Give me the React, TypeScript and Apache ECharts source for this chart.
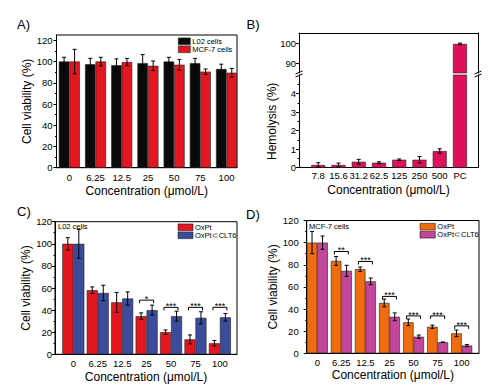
import React, { useEffect, useRef } from 'react';
import * as echarts from 'echarts';

// ---------- Data ----------
const concentrations = ['0', '6.25', '12.5', '25', '50', '75', '100'];

// Panel A
const l02Viability = [100, 97.5, 96.5, 98.5, 100, 98.5, 93];
const l02Err = [4, 5.5, 6, 8, 4, 4.5, 4.5];
const mcf7Viability = [100, 100, 99.5, 96, 97, 90.5, 89.5];
const mcf7Err = [11.5, 4, 3.5, 4.5, 5, 2.5, 4];

// Panel B
const hemoConc = ['7.8', '15.6', '31.2', '62.5', '125', '250', '500', 'PC'];
const hemolysis = [0.15, 0.15, 0.32, 0.27, 0.43, 0.43, 0.9, 99.7];
const hemolysisErr = [0.12, 0.1, 0.13, 0.05, 0.04, 0.17, 0.12, 0.4];

// Panel C (L02 cells)
const cOxPt = [100, 58, 47, 34.5, 20, 13.5, 10];
const cOxPtErr = [5.5, 3, 9, 3, 2, 4, 2.5];
const cComplex = [100, 55.5, 50.5, 40, 34.5, 33, 33.5];
const cComplexErr = [13, 7, 6, 4.5, 4.5, 5.5, 3.5];
const cSigIndex = [3, 4, 5, 6];
const cSigLevel = [49, 42.5, 42.5, 42.5];
const cSigStars = ['*', '***', '***', '***'];

// Panel D (MCF-7 cells)
const dOxPt = [100, 83.5, 76, 45.5, 28, 24, 18];
const dOxPtErr = [10, 4, 2, 3.5, 3, 1.5, 3];
const dComplex = [100, 74.5, 65, 33, 15, 10, 7];
const dComplexErr = [6, 5, 3, 3.5, 1.5, 0.3, 1];
const dSigIndex = [1, 2, 3, 4, 5, 6];
const dSigLevel = [92, 83, 51.4, 33.8, 33.8, 24.8];
const dSigStars = ['**', '***', '***', '***', '***', '***'];

const yTicks120 = [0, 20, 40, 60, 80, 100, 120];
const bUpperTicks = [90, 100];
const bLowerTicks = [0, 1, 2, 3, 4];

// ---------- Styling ----------
const FONT = '"Liberation Sans", Arial, Helvetica, sans-serif';
const BLACK = '#0a0a0a';
const RED = '#e4161f';
const BLUE = '#3b4c9c';
const ORANGE = '#ef6d10';
const MAGENTA = '#c2469c';
const CRIMSON = '#df115a';
const XNAME = 'Concentration (\u03bcmol/L)';
const YNAME = 'Cell viability (%)';

function xAxis(gridIndex: number, min: number, max: number, labels: string[] | null, nameGap = 17, labelMargin = 4, position = 'bottom') {
  return {
    type: 'value', gridIndex, min, max, position,
    axisLine: { show: true, onZero: false, lineStyle: { color: '#000', width: 1 } },
    axisTick: { show: false },
    splitLine: { show: false },
    axisLabel: labels
      ? {
          show: true,
          customValues: labels.map((_, i) => i),
          formatter: (v: number) => labels[Math.round(v)] ?? '',
          fontSize: 9.5, color: '#000', fontFamily: FONT, margin: labelMargin,
        }
      : { show: false },
    name: labels ? XNAME : '',
    nameLocation: 'middle', nameGap,
    nameTextStyle: { fontSize: 12, color: '#000', fontFamily: FONT },
  };
}

function yAxis(gridIndex: number, min: number, max: number, interval: number, ticks: number[], name: string, nameGap: number, labelMargin = 4, minor = true) {
  return {
    type: 'value', gridIndex, min, max, interval,
    axisLine: { show: true, onZero: false, lineStyle: { color: '#000', width: 1 } },
    axisTick: { show: true, length: 3, customValues: ticks, lineStyle: { color: '#000', width: 1 } },
    minorTick: { show: minor, splitNumber: 2, length: 1.5, lineStyle: { color: '#000', width: 1 } },
    splitLine: { show: false },
    minorSplitLine: { show: false },
    axisLabel: { customValues: ticks, fontSize: 9.5, color: '#000', fontFamily: FONT, margin: labelMargin },
    name, nameLocation: 'middle', nameGap,
    nameTextStyle: { fontSize: 12, color: '#000', fontFamily: FONT },
  };
}

function rightLine(gridIndex: number, min: number, max: number) {
  return {
    type: 'value', gridIndex, min, max, position: 'right',
    axisLine: { show: true, onZero: false, lineStyle: { color: '#000', width: 1 } },
    axisTick: { show: false }, axisLabel: { show: false }, splitLine: { show: false },
  };
}

function bar(name: string, xi: number, yi: number, vals: number[], color: string, width: number, filter?: (v: number) => boolean) {
  const data = vals.map((v, i) => [i, v]).filter((d) => (filter ? filter(d[1]) : true));
  return {
    type: 'bar', name, xAxisIndex: xi, yAxisIndex: yi, data,
    barWidth: width, barGap: '0%', clip: true,
    itemStyle: { color, borderColor: '#222', borderWidth: 0.6 },
    z: 2,
  };
}

function errBars(xi: number, yi: number, vals: number[], errs: number[], offset: number, filter?: (v: number, e: number) => boolean) {
  const data = vals
    .map((v, i) => [i, v - errs[i], v + errs[i], v, errs[i]])
    .filter((d) => (filter ? filter(d[3], d[4]) : true))
    .map((d) => [d[0], d[1], d[2]]);
  return {
    type: 'custom', xAxisIndex: xi, yAxisIndex: yi, data, silent: true, z: 5,
    encode: { x: 0, y: [1, 2] },
    renderItem: (params: any, api: any) => {
      const x = api.value(0);
      const lo = api.coord([x, api.value(1)]);
      const hi = api.coord([x, api.value(2)]);
      const cx = lo[0] + offset;
      const cap = 2;
      const st = { stroke: '#000', lineWidth: 1 };
      return {
        type: 'group',
        children: [
          { type: 'line', shape: { x1: cx, y1: lo[1], x2: cx, y2: hi[1] }, style: st },
          { type: 'line', shape: { x1: cx - cap, y1: hi[1], x2: cx + cap, y2: hi[1] }, style: st },
          { type: 'line', shape: { x1: cx - cap, y1: lo[1], x2: cx + cap, y2: lo[1] }, style: st },
        ],
      };
    },
  };
}

function brackets(xi: number, yi: number, idx: number[], levels: number[], stars: string[], half: number) {
  return {
    type: 'custom', xAxisIndex: xi, yAxisIndex: yi, silent: true, z: 6,
    data: idx.map((i, k) => [i, levels[k]]),
    encode: { x: 0, y: 1 },
    renderItem: (params: any, api: any) => {
      const p = api.coord([api.value(0), api.value(1)]);
      const l = p[0] - half;
      const r = p[0] + half;
      const y = p[1];
      return {
        type: 'group',
        children: [
          { type: 'polyline', shape: { points: [[l, y + 3], [l, y], [r, y], [r, y + 3]] }, style: { stroke: '#000', lineWidth: 1, fill: 'none' } },
          { type: 'text', x: p[0], y: y - 1, style: { text: stars[params.dataIndex], fontSize: 9, fontFamily: FONT, fill: '#000', align: 'center', verticalAlign: 'middle' } },
        ],
      };
    },
  };
}

function breakMark(x: number, y: number) {
  return {
    type: 'group', x, y, z: 100,
    children: [
      { type: 'rect', shape: { x: -4, y: -1.5, width: 8, height: 3 }, style: { fill: '#fff' } },
      { type: 'line', shape: { x1: -3.5, y1: 0, x2: 3.5, y2: -3 }, style: { stroke: '#000', lineWidth: 1 } },
      { type: 'line', shape: { x1: -3.5, y1: 3, x2: 3.5, y2: 0 }, style: { stroke: '#000', lineWidth: 1 } },
    ],
  };
}

function label(text: string, x: number, y: number, size: number) {
  return { type: 'text', x, y, z: 100, style: { text, fontSize: size, fontFamily: FONT, fill: '#000', verticalAlign: 'top' } };
}

function legend(left: number, top: number, w: number, items: { name: string; color: string }[]) {
  return {
    orient: 'vertical', left, top, padding: 0, itemGap: 0, itemWidth: w, itemHeight: 6.7,
    icon: 'rect', selectedMode: false,
    data: items.map((it) => ({ name: it.name, itemStyle: { color: it.color, borderColor: '#222', borderWidth: 0.6 } })),
    textStyle: { fontSize: 7.5, fontFamily: FONT, color: '#000', lineHeight: 6.7, padding: [0, 0, 0, -3] },
  };
}

const B_UP_MIN = 85;
const B_UP_MAX = 105.2;
const B_LO_MAX = 5;

export default function App() {
  const ref = useRef<HTMLDivElement>(null);
  useEffect(() => {
    if (!ref.current) return;
    const chart = echarts.init(ref.current, undefined, { renderer: 'svg' });
    const option: any = {
      animation: false,
      backgroundColor: '#fff',
      textStyle: { fontFamily: FONT },
      grid: [
        { left: 56.5, top: 35, width: 180.5, height: 132.7, show: true, borderColor: '#000', borderWidth: 1, backgroundColor: 'transparent' },
        { left: 299, top: 33, width: 179, height: 40, show: false },
        { left: 299, top: 75, width: 179, height: 92.7, show: false },
        { left: 55, top: 221.7, width: 182, height: 132.6, show: true, borderColor: '#000', borderWidth: 1, backgroundColor: 'transparent' },
        { left: 306.7, top: 220.5, width: 172.3, height: 132.8, show: true, borderColor: '#000', borderWidth: 1, backgroundColor: 'transparent' },
      ],
      xAxis: [
        xAxis(0, -0.49, 6.4, concentrations, 17, 5),
        xAxis(1, -0.95, 7.89, null, 0, 0, 'top'),
        xAxis(2, -0.95, 7.89, hemoConc, 16, 3),
        xAxis(3, -0.75, 6.7, concentrations, 17, 4),
        xAxis(4, -0.44, 6.72, concentrations, 16, 4),
      ],
      yAxis: [
        yAxis(0, 0, 125, 20, yTicks120, YNAME, 20),
        yAxis(1, B_UP_MIN, B_UP_MAX, 5, bUpperTicks, '', 0, 3, false),
        yAxis(2, 0, B_LO_MAX, 1, bLowerTicks, 'Hemolysis (%)', 21, 3),
        yAxis(3, 0, 120, 20, yTicks120, YNAME, 19.5, 3),
        yAxis(4, 0, 120, 20, yTicks120, YNAME, 24, 8),
        rightLine(1, B_UP_MIN, B_UP_MAX),
        rightLine(2, 0, B_LO_MAX),
      ],
      legend: [
        legend(178, 37.3, 12, [{ name: 'L02 cells', color: BLACK }, { name: 'MCF-7 cells', color: RED }]),
        legend(177.7, 223.3, 15, [{ name: 'OxPt', color: RED }, { name: 'OxPt\u2282CLT6', color: BLUE }]),
        legend(419.7, 222.7, 15.3, [{ name: 'OxPt', color: ORANGE }, { name: 'OxPt\u2282CLT6', color: MAGENTA }]),
      ],
      series: [
        // A
        bar('L02 cells', 0, 0, l02Viability, BLACK, 10.5),
        bar('MCF-7 cells', 0, 0, mcf7Viability, RED, 10.5),
        errBars(0, 0, l02Viability, l02Err, -5.25),
        errBars(0, 0, mcf7Viability, mcf7Err, 5.25),
        // B
        bar('Hemolysis upper', 1, 1, hemolysis, CRIMSON, 14, (v) => v > B_UP_MIN),
        bar('Hemolysis', 2, 2, hemolysis, CRIMSON, 14),
        errBars(1, 1, hemolysis, hemolysisErr, 0, (v) => v > B_UP_MIN),
        errBars(2, 2, hemolysis, hemolysisErr, 0, (v, e) => v + e < B_LO_MAX),
        // C
        bar('OxPt', 3, 3, cOxPt, RED, 11),
        bar('OxPt\u2282CLT6', 3, 3, cComplex, BLUE, 11),
        errBars(3, 3, cOxPt, cOxPtErr, -5.5),
        errBars(3, 3, cComplex, cComplexErr, 5.5),
        brackets(3, 3, cSigIndex, cSigLevel, cSigStars, 7),
        // D
        bar('OxPt', 4, 4, dOxPt, ORANGE, 10.5),
        bar('OxPt\u2282CLT6', 4, 4, dComplex, MAGENTA, 10.5),
        errBars(4, 4, dOxPt, dOxPtErr, -5.25),
        errBars(4, 4, dComplex, dComplexErr, 5.25),
        brackets(4, 4, dSigIndex, dSigLevel, dSigStars, 7),
      ],
      graphic: [
        label('A)', 17, 17.5, 13),
        label('B)', 246.5, 17.5, 13),
        label('C)', 17, 204.5, 13),
        label('D)', 246, 207.5, 13),
        label('L02 cells', 58, 222.5, 7.5),
        label('MCF-7 cells', 309, 222.5, 7.5),
        breakMark(299, 74),
        breakMark(478, 74),
      ],
    };
    chart.setOption(option);
    return () => chart.dispose();
  }, []);
  return <div ref={ref} style={{ position: 'fixed', left: 0, top: 0, width: 493, height: 387, background: '#fff' }} />;
}
